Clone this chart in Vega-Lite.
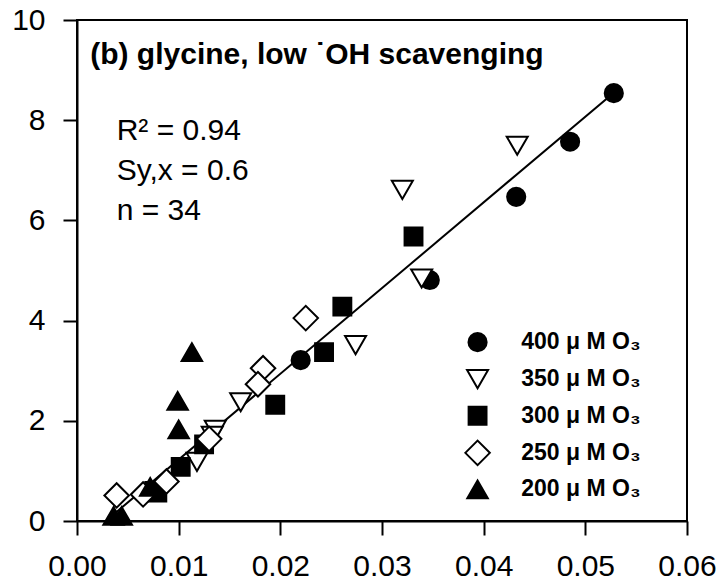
{
  "$schema": "https://vega.github.io/schema/vega-lite/v6.json",
  "width": 610,
  "height": 501,
  "autosize": "none",
  "padding": {"left": 77, "top": 20, "right": 32, "bottom": 67},
  "background": "white",
  "config": {
    "view": {"stroke": "black", "strokeWidth": 2},
    "font": "Liberation Sans",
    "axis": {
      "domainColor": "black", "domainWidth": 2,
      "tickColor": "black", "tickWidth": 2, "tickSize": 14,
      "labelColor": "black", "labelFont": "Liberation Sans", "labelFontSize": 30,
      "labelFlush": false, "labelOverlap": false,
      "grid": false, "title": null
    }
  },
  "datasets": {
    "pts": [
      {"s": "400", "x": 0.0528, "y": 8.54},
      {"s": "400", "x": 0.0485, "y": 7.57},
      {"s": "400", "x": 0.0432, "y": 6.47},
      {"s": "400", "x": 0.0347, "y": 4.81},
      {"s": "400", "x": 0.0220, "y": 3.21},
      {"s": "350", "x": 0.0433, "y": 7.49},
      {"s": "350", "x": 0.0320, "y": 6.61},
      {"s": "350", "x": 0.0339, "y": 4.84},
      {"s": "350", "x": 0.0274, "y": 3.51},
      {"s": "350", "x": 0.0161, "y": 2.37},
      {"s": "350", "x": 0.0136, "y": 1.82},
      {"s": "350", "x": 0.0133, "y": 1.70},
      {"s": "350", "x": 0.0118, "y": 1.18},
      {"s": "300", "x": 0.0331, "y": 5.68},
      {"s": "300", "x": 0.0261, "y": 4.28},
      {"s": "300", "x": 0.0243, "y": 3.37},
      {"s": "300", "x": 0.0195, "y": 2.32},
      {"s": "300", "x": 0.0125, "y": 1.53},
      {"s": "300", "x": 0.0102, "y": 1.08},
      {"s": "300", "x": 0.0079, "y": 0.57},
      {"s": "300", "x": 0.0076, "y": 0.60},
      {"s": "250", "x": 0.0225, "y": 4.05},
      {"s": "250", "x": 0.0183, "y": 3.05},
      {"s": "250", "x": 0.0178, "y": 2.73},
      {"s": "250", "x": 0.0130, "y": 1.64},
      {"s": "250", "x": 0.0088, "y": 0.79},
      {"s": "250", "x": 0.0065, "y": 0.53},
      {"s": "250", "x": 0.0039, "y": 0.51},
      {"s": "200", "x": 0.0113, "y": 3.37},
      {"s": "200", "x": 0.0099, "y": 2.40},
      {"s": "200", "x": 0.0100, "y": 1.83},
      {"s": "200", "x": 0.0072, "y": 0.68},
      {"s": "200", "x": 0.0036, "y": 0.10},
      {"s": "200", "x": 0.0044, "y": 0.10}
    ],
    "fit": [
      {"x": 0.0033, "y": 0.08},
      {"x": 0.0528, "y": 8.55}
    ],
    "legend": [
      {"s": "400", "x": 0.0394, "tx": 0.0437, "y": 3.57, "label": "400 μ M O₃"},
      {"s": "350", "x": 0.0394, "tx": 0.0437, "y": 2.83, "label": "350 μ M O₃"},
      {"s": "300", "x": 0.0394, "tx": 0.0437, "y": 2.10, "label": "300 μ M O₃"},
      {"s": "250", "x": 0.0394, "tx": 0.0437, "y": 1.36, "label": "250 μ M O₃"},
      {"s": "200", "x": 0.0394, "tx": 0.0437, "y": 0.63, "label": "200 μ M O₃"}
    ],
    "notes": [
      {"x": 0.0013, "y": 9.12, "t": "(b) glycine, low ˙OH scavenging", "kind": "title"},
      {"x": 0.0039, "y": 7.60, "t": "R² = 0.94", "kind": "stat"},
      {"x": 0.0039, "y": 6.81, "t": "Sy,x = 0.6", "kind": "stat"},
      {"x": 0.0039, "y": 6.01, "t": "n = 34", "kind": "stat"}
    ]
  },
  "layer": [
    {
      "data": {"name": "fit"},
      "mark": {"type": "line", "color": "black", "strokeWidth": 2},
      "encoding": {
        "x": {"field": "x", "type": "quantitative",
              "scale": {"domain": [0, 0.06], "nice": false, "zero": false},
              "axis": {"values": [0, 0.01, 0.02, 0.03, 0.04, 0.05, 0.06], "format": ".2f", "labelPadding": 16}},
        "y": {"field": "y", "type": "quantitative",
              "scale": {"domain": [0, 10], "nice": false},
              "axis": {"values": [0, 2, 4, 6, 8, 10], "labelPadding": 18}}
      }
    },
    {
      "data": {"name": "pts"},
      "mark": {"type": "point", "filled": false, "stroke": "black", "strokeWidth": 2, "opacity": 1},
      "encoding": {
        "x": {"field": "x", "type": "quantitative"},
        "y": {"field": "y", "type": "quantitative"},
        "shape": {"field": "s", "type": "nominal", "legend": null,
                  "scale": {"domain": ["400", "350", "300", "250", "200"], "range": ["circle", "triangle-down", "square", "diamond", "triangle-up"]}},
        "fill": {"field": "s", "type": "nominal", "legend": null,
                 "scale": {"domain": ["400", "350", "300", "250", "200"], "range": ["black", "white", "black", "white", "black"]}},
        "size": {"condition": [
                   {"test": "datum.s == '250'", "value": 600},
                   {"test": "datum.s == '350'", "value": 441},
                   {"test": "datum.s == '200'", "value": 420},
                   {"test": "datum.s == '300'", "value": 320}
                 ], "value": 330}
      }
    },
    {
      "data": {"name": "legend"},
      "mark": {"type": "point", "filled": false, "stroke": "black", "strokeWidth": 2, "opacity": 1},
      "encoding": {
        "x": {"field": "x", "type": "quantitative"},
        "y": {"field": "y", "type": "quantitative"},
        "shape": {"field": "s", "type": "nominal", "legend": null},
        "fill": {"field": "s", "type": "nominal", "legend": null},
        "size": {"condition": [
                   {"test": "datum.s == '250'", "value": 600},
                   {"test": "datum.s == '350'", "value": 441},
                   {"test": "datum.s == '200'", "value": 420},
                   {"test": "datum.s == '300'", "value": 320}
                 ], "value": 330}
      }
    },
    {
      "data": {"name": "legend"},
      "mark": {"type": "text", "align": "left", "baseline": "middle", "fontSize": 23, "fontWeight": "bold", "color": "black"},
      "encoding": {
        "x": {"field": "tx", "type": "quantitative"},
        "y": {"field": "y", "type": "quantitative"},
        "text": {"field": "label"}
      }
    },
    {
      "data": {"name": "notes"},
      "transform": [{"filter": "datum.kind == 'title'"}],
      "mark": {"type": "text", "align": "left", "baseline": "alphabetic", "fontSize": 30, "fontWeight": "bold", "color": "black"},
      "encoding": {
        "x": {"field": "x", "type": "quantitative"},
        "y": {"field": "y", "type": "quantitative"},
        "text": {"field": "t"}
      }
    },
    {
      "data": {"name": "notes"},
      "transform": [{"filter": "datum.kind == 'stat'"}],
      "mark": {"type": "text", "align": "left", "baseline": "alphabetic", "fontSize": 30, "color": "black"},
      "encoding": {
        "x": {"field": "x", "type": "quantitative"},
        "y": {"field": "y", "type": "quantitative"},
        "text": {"field": "t"}
      }
    }
  ]
}
